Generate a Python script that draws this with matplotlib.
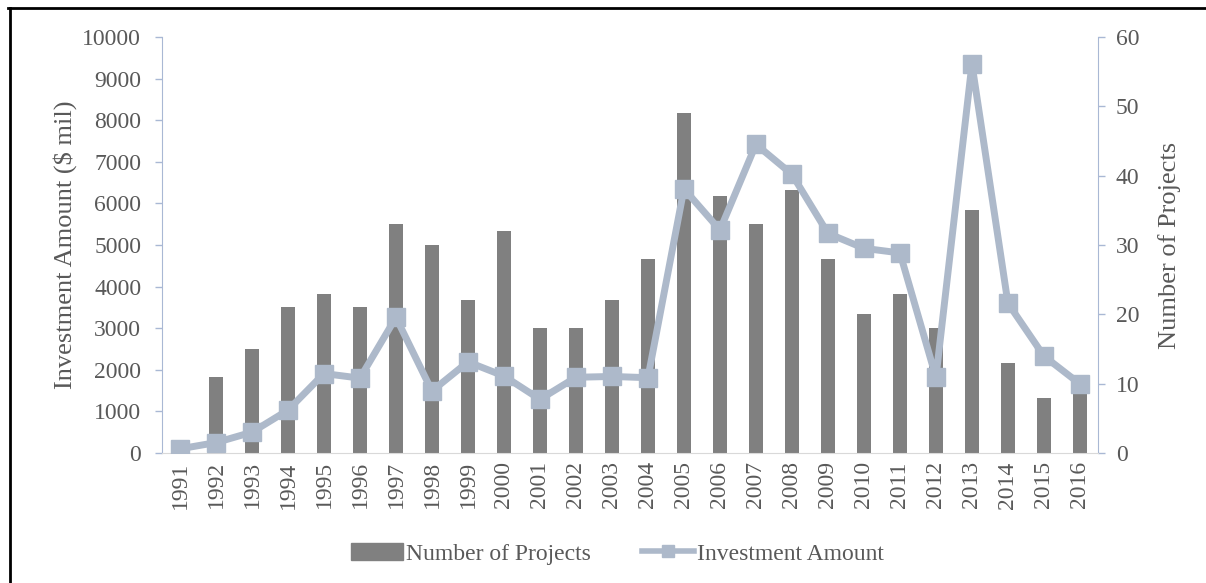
import numpy as np
import matplotlib.pyplot as plt
from matplotlib.lines import Line2D

years = [str(y) for y in range(1991, 2017)]
num_projects = [1, 11, 15, 21, 23, 21, 33, 30, 22, 32, 18, 18, 22, 28,
                49, 37, 33, 38, 28, 20, 23, 18, 35, 13, 8, 10]
investment = [100, 250, 500, 1030, 1910, 1800, 3260, 1490, 2190, 1850, 1290, 1820, 1840, 1810,
              6350, 5360, 7420, 6700, 5280, 4920, 4810, 1820, 9350, 3600, 2330, 1660]

plt.rcParams["font.family"] = ["Liberation Serif", "DejaVu Serif"]
text_color = "#595959"
line_color = "#ADB9CA"
bar_color = "#808080"
spine_color = "#A9B8D4"

fig = plt.figure(figsize=(12.06, 5.83), dpi=100)
ax = fig.add_axes([0.1343, 0.2230, 0.7761, 0.7135])
ax2 = ax.twinx()

x = np.arange(len(years))
# bars on the right axis, line on the left axis, line drawn on top
ax2.bar(x, num_projects, width=0.4, color=bar_color, zorder=1)
ax.plot(x, investment, color=line_color, lw=5, marker="s", ms=13, zorder=3)
ax.set_zorder(ax2.get_zorder() + 1)
ax.patch.set_visible(False)

ax.set_xlim(-0.5, len(years) - 0.5)
ax.set_ylim(0, 10000)
ax2.set_ylim(0, 60)
ax.set_yticks(np.arange(0, 10001, 1000))
ax2.set_yticks(np.arange(0, 61, 10))
ax.set_xticks(x)
ax.set_xticklabels(years, rotation=90)

for a in (ax, ax2):
    for s in a.spines.values():
        s.set_visible(False)
    a.tick_params(colors=text_color, labelsize=17, length=5, width=1)
    a.tick_params(axis="y", color=spine_color)
ax.tick_params(axis="y", pad=10)
ax2.tick_params(axis="y", pad=8)
ax.spines["left"].set_visible(True)
ax.spines["left"].set_color(spine_color)
ax2.spines["right"].set_visible(True)
ax2.spines["right"].set_color(spine_color)
ax.spines["bottom"].set_visible(True)
ax.spines["bottom"].set_color("#D9D9D9")
ax.tick_params(axis="x", length=0, pad=6)

ax.set_ylabel("Investment Amount ($ mil)", fontsize=19, color=text_color, labelpad=4)
ax2.set_ylabel("Number of Projects", fontsize=19, color=text_color, labelpad=13)

handles = [
    plt.Rectangle((0, 0), 1, 1, color=bar_color),
    Line2D([], [], color=line_color, lw=4, marker="s", ms=9),
]
fig.legend(handles, ["Number of Projects", "Investment Amount"], loc="center",
           bbox_to_anchor=(0.512, 0.05), ncol=2, frameon=False, fontsize=17,
           labelcolor=text_color, handlelength=2.2, handletextpad=0.1, columnspacing=2.2)

# outer frame lines
fig.add_artist(Line2D([0.008, 0.008], [0, 0.987], color="black", lw=2, transform=fig.transFigure))
fig.add_artist(Line2D([0.007, 1], [0.987, 0.987], color="black", lw=2, transform=fig.transFigure))

fig.savefig("out.png", dpi=100)
